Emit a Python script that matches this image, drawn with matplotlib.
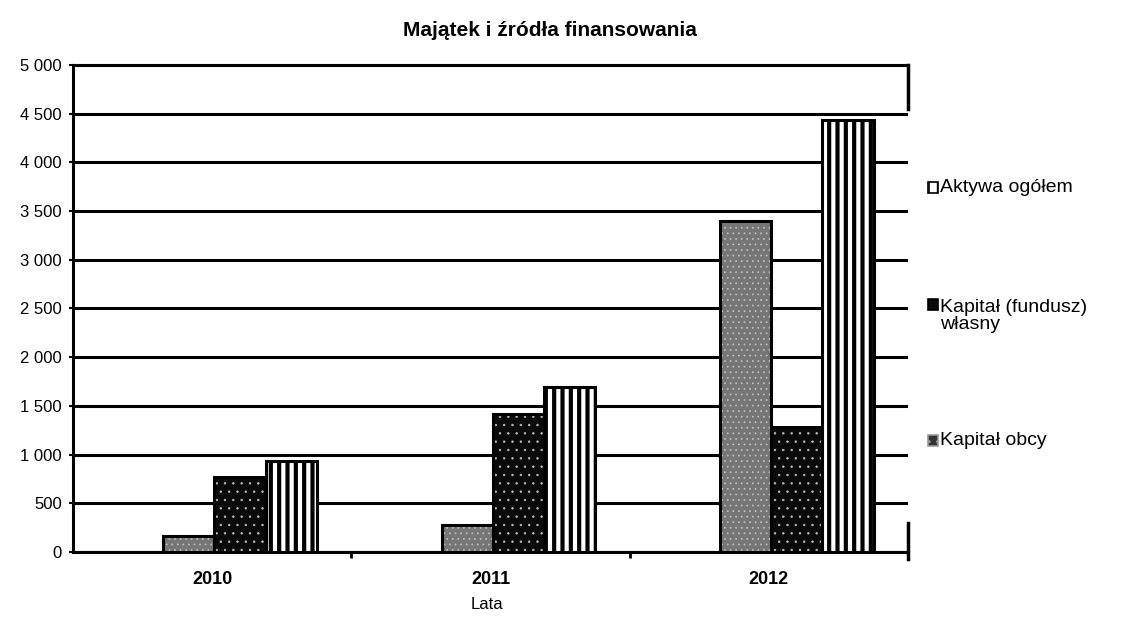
import matplotlib
matplotlib.use("Agg")
import matplotlib.pyplot as plt
from matplotlib.patches import Rectangle
from matplotlib.ticker import FuncFormatter, MultipleLocator, FixedLocator
import numpy as np

plt.rcParams['font.family'] = ['Liberation Sans', 'DejaVu Sans']

# data
years = ['2010', '2011', '2012']
kapital_obcy = [160, 280, 3400]
kapital_wlasny = [770, 1420, 1280]
aktywa_ogolem = [930, 1690, 4430]

series_labels = ['Aktywa ogółem', 'Kapitał (fundusz)\nwłasny', 'Kapitał obcy']

fig = plt.figure(figsize=(11.3, 6.26), dpi=100)
ax = fig.add_axes([0.0646, 0.1182, 0.739, 0.778])

x = np.arange(len(years))
w = 0.184
shift = 0.1   # groups sit a bit right of the year labels in the scan

# gray stippled bars (kapitał obcy)
with plt.rc_context({'hatch.linewidth': 0.5}):
    ax.bar(x + shift - w, kapital_obcy, w, color='#767676', hatch='...',
           edgecolor='#c4c4c4', linewidth=0, zorder=3)
    # black dotted bars (kapitał własny)
    ax.bar(x + shift, kapital_wlasny, w, color='#0a0a0a', hatch='..',
           edgecolor='#bdbdbd', linewidth=0, zorder=3)
ax.bar(x + shift - w, kapital_obcy, w, fill=False, edgecolor='black',
       linewidth=2.2, zorder=4)
ax.bar(x + shift, kapital_wlasny, w, fill=False, edgecolor='black',
       linewidth=2.2, zorder=4)

# white bars with vertical stripes (aktywa ogółem)
with plt.rc_context({'hatch.linewidth': 3.0}):
    ax.bar(x + shift + w, aktywa_ogolem, w, color='white', hatch='||',
           edgecolor='black', linewidth=2.2, zorder=3)

ax.set_xlim(-0.5, 2.5)
ax.set_ylim(0, 5000)
ax.yaxis.set_major_locator(MultipleLocator(500))
ax.yaxis.set_major_formatter(FuncFormatter(lambda v, p: f"{int(v):,}".replace(",", " ")))
ax.set_axisbelow(True)
ax.yaxis.grid(True, color='black', linewidth=2.2)

ax.set_xticks(x)
ax.set_xticklabels(years, fontsize=13, fontweight='bold')
ax.xaxis.set_minor_locator(FixedLocator([0.5, 1.5]))
ax.tick_params(axis='x', which='major', length=0, pad=14)
ax.tick_params(axis='x', which='minor', length=4, width=2, direction='out')
ax.tick_params(axis='y', length=3, width=1.5, labelsize=12, pad=5)

for s in ['left', 'bottom']:
    ax.spines[s].set_linewidth(2.2)
ax.spines['top'].set_linewidth(1.5)
ax.spines['right'].set_visible(False)
# the scan only shows bits of the right frame
ax.axvline(2.5, ymin=0.91, ymax=1.0, color='black', linewidth=2.5, clip_on=False)
ax.axvline(2.5, ymin=-0.015, ymax=0.06, color='black', linewidth=2.5, clip_on=False)

fig.text(0.487, 0.952, 'Majątek i źródła finansowania', ha='center', va='center',
         fontsize=15, fontweight='bold')
fig.text(0.431, 0.034, 'Lata', ha='center', va='center', fontsize=12)

# legend drawn by hand to keep the wide spacing of the original
marker_y = [0.70, 0.513, 0.296]
text_y = [0.70, 0.495, 0.296]
styles = [dict(facecolor='white', hatch='||', edgecolor='black'),
          dict(facecolor='#0a0a0a', edgecolor='black'),
          dict(facecolor='#333333', hatch='..', edgecolor='#999999')]
for lab, my, ty, st in zip(series_labels, marker_y, text_y, styles):
    fig.add_artist(Rectangle((0.821, my - 0.009), 0.0095, 0.018, transform=fig.transFigure,
                             linewidth=1.2, **st))
    fig.text(0.832, ty, lab, ha='left', va='center', fontsize=14, linespacing=1.0)

fig.savefig('out.png', dpi=100)
